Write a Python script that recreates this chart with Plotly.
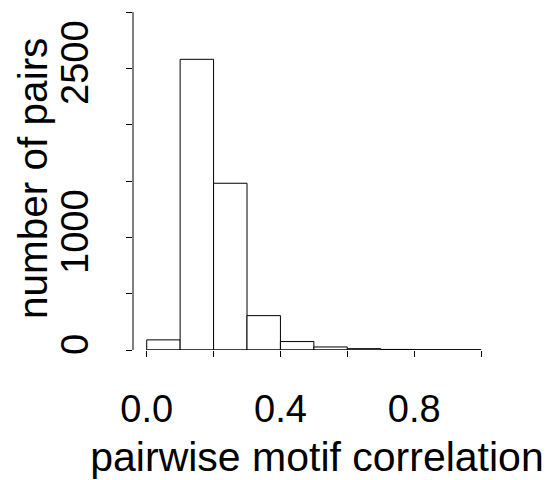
import plotly.graph_objects as go

bin_left = [0.0, 0.1, 0.2, 0.3, 0.4, 0.5, 0.6, 0.7, 0.8, 0.9]
counts = [90, 2580, 1480, 305, 75, 27, 12, 5, 2, 2]
bin_width = 0.1
x_tickvals = [0.0, 0.2, 0.4, 0.6, 0.8, 1.0]
x_ticktext = ["0.0", "", "0.4", "", "0.8", ""]
y_tickvals = [0, 500, 1000, 1500, 2000, 2500, 3000]
y_ticktext = ["0", "", "1000", "", "", "2500", ""]
x_title = "pairwise motif correlation"
y_title = "number of pairs"

centers = [b + bin_width / 2 for b in bin_left]

FONT = "Liberation Sans, Arial, sans-serif"

fig = go.Figure(go.Bar(
    x=centers, y=counts, width=[bin_width] * len(counts),
    marker=dict(color="white", line=dict(color="black", width=1)),
))

fig.update_layout(
    width=543, height=472,
    margin=dict(l=125, r=50, t=4, b=130, autoexpand=False),
    plot_bgcolor="white", paper_bgcolor="white",
    showlegend=False,
    font=dict(family=FONT, size=38, color="black"),
    xaxis=dict(
        range=[-0.041, 1.0598], tickvals=x_tickvals, ticktext=x_ticktext,
        ticks="outside", ticklen=6, tickcolor="black", tickwidth=1,
        showgrid=False, zeroline=False, showline=False, automargin=False,
        ticklabelstandoff=19,
        title=dict(text=x_title, standoff=15, font=dict(size=41)),
        tickfont=dict(size=38),
    ),
    yaxis=dict(
        range=[0, 3000], tickvals=y_tickvals, ticktext=y_ticktext,
        ticks="outside", ticklen=6, tickcolor="black", tickwidth=1,
        tickangle=-90,
        showgrid=False, zeroline=False, showline=False, automargin=False,
        ticklabelstandoff=23,
        tickfont=dict(size=38),
    ),
    annotations=[
        dict(text=y_title, xref="paper", yref="paper", x=-0.2717, y=0.5059,
             xanchor="center", yanchor="middle", textangle=-90,
             showarrow=False, font=dict(size=40.5)),
    ],
    shapes=[
        dict(type="line", xref="x", yref="y", x0=0, x1=1, y0=0, y1=0,
             line=dict(color="black", width=1)),
        dict(type="line", xref="paper", yref="y", x0=0, x1=0, y0=0, y1=3000,
             line=dict(color="black", width=1)),
    ],
)

fig.write_html("out.html")
